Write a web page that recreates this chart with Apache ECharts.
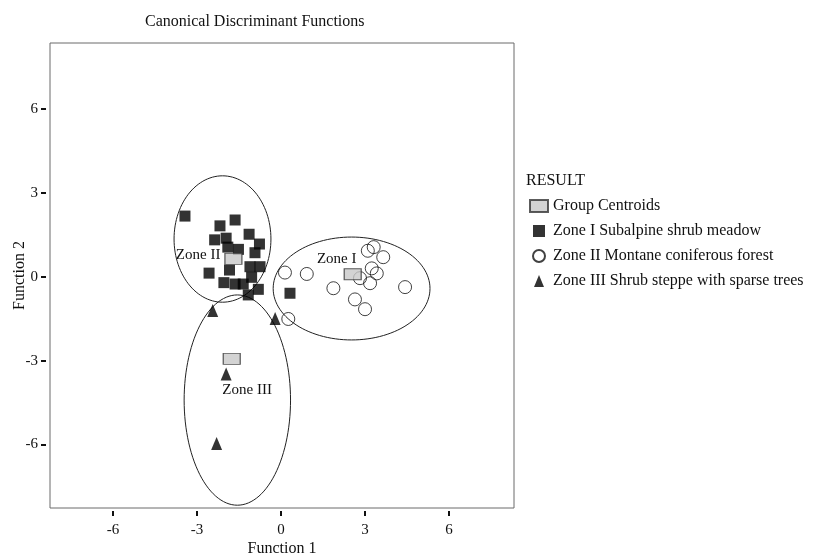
<!DOCTYPE html>
<html>
<head>
<meta charset="utf-8">
<script src="https://cdn.jsdelivr.net/npm/echarts@6/dist/echarts.min.js"></script>
<style>
  html, body { margin: 0; padding: 0; background: #fff; }
  #main { width: 813px; height: 556px; }
</style>
</head>
<body>
<div id="main"></div>
<script>
// tick values on both axes
const xTicks = [-6, -3, 0, 3, 6];
const yTicks = [-6, -3, 0, 3, 6];

// Zone I Subalpine shrub meadow (squares)
const subalpine = [
  [-3.43, 2.17], [-1.64, 2.03], [-2.18, 1.82], [-1.14, 1.52], [-2.37, 1.32],
  [-1.96, 1.38], [-0.77, 1.17], [-1.90, 1.06], [-1.52, 0.98], [-0.93, 0.86],
  [-1.84, 0.24], [-1.11, 0.36], [-0.75, 0.36], [-2.57, 0.13], [-2.04, -0.21],
  [-1.64, -0.26], [-1.35, -0.26], [-1.05, -0.02], [-0.81, -0.45], [-1.17, -0.65],
  [0.32, -0.59]
];
// Zone II Montane coniferous forest (circles)
const montane = [
  [0.14, 0.15], [0.92, 0.10], [1.87, -0.41], [3.10, 0.93], [3.31, 1.06],
  [3.65, 0.70], [3.24, 0.30], [3.42, 0.12], [2.82, -0.05], [3.18, -0.23],
  [4.43, -0.37], [2.64, -0.81], [3.00, -1.16], [0.26, -1.51]
];
// Zone III Shrub steppe with sparse trees (triangles)
const steppe = [
  [-2.44, -1.21], [-0.21, -1.49], [-1.96, -3.48], [-2.30, -5.96]
];
// group centroids
const centroids = [[-1.70, 0.64], [2.56, 0.09], [-1.76, -2.94]];

// hand drawn ellipses: [cx, cy, rx, ry]
const ellipses = [
  [-2.09, 1.35, 1.73, 2.26],
  [2.52, -0.42, 2.80, 1.84],
  [-1.56, -4.41, 1.90, 3.76]
];
// zone labels: [x, y, text]
const zoneLabels = [
  [-2.96, 0.78, 'Zone II'],
  [1.99, 0.63, 'Zone I'],
  [-1.21, -4.05, 'Zone III']
];

const legendNames = [
  'Group Centroids',
  'Zone I Subalpine shrub meadow',
  'Zone II Montane coniferous forest',
  'Zone III Shrub steppe with sparse trees'
];

const FONT = "'Liberation Serif', 'Times New Roman', serif";

var chartDom = document.getElementById('main');
var myChart = echarts.init(chartDom);
var option;

option = {
  animation: false,
  backgroundColor: '#fff',
  textStyle: { fontFamily: FONT, color: '#111' },
  title: {
    text: 'Canonical Discriminant Functions',
    left: 140,
    top: 9,
    textStyle: { fontFamily: FONT, fontSize: 16, fontWeight: 'normal', color: '#111' }
  },
  graphic: [
    {
      type: 'text',
      left: 526,
      top: 173,
      style: { text: 'RESULT', font: '16px ' + FONT, fill: '#111' }
    }
  ],
  legend: {
    orient: 'vertical',
    left: 524,
    top: 193,
    itemWidth: 18,
    itemHeight: 12,
    itemGap: 9,
    selectedMode: false,
    textStyle: { fontFamily: FONT, fontSize: 16, color: '#111', lineHeight: 16 },
    data: [
      { name: legendNames[0], icon: 'rect' },
      { name: legendNames[1], icon: 'path://M0,0H10V10H0Z' },
      { name: legendNames[2], icon: 'circle' },
      { name: legendNames[3], icon: 'path://M5,0L10,12H0Z' }
    ]
  },
  grid: {
    left: 50,
    right: 299,
    top: 43,
    bottom: 48,
    show: true,
    borderColor: '#6b6b6b',
    borderWidth: 1,
    outerBoundsMode: 'none'
  },
  xAxis: {
    type: 'value',
    min: -8.25,
    max: 8.32,
    offset: 3,
    name: 'Function 1',
    nameLocation: 'middle',
    nameGap: 30,
    nameMoveOverlap: false,
    nameTextStyle: { fontFamily: FONT, fontSize: 16, color: '#111' },
    axisLine: { show: false, onZero: false },
    splitLine: { show: false },
    axisTick: { show: true, length: 5, customValues: xTicks, lineStyle: { color: '#111', width: 2 } },
    axisLabel: { customValues: xTicks, margin: 12, fontFamily: FONT, fontSize: 15, color: '#111' }
  },
  yAxis: {
    type: 'value',
    min: -8.27,
    max: 8.36,
    offset: 4,
    name: 'Function 2',
    nameLocation: 'middle',
    nameGap: 18,
    nameMoveOverlap: false,
    nameTextStyle: { fontFamily: FONT, fontSize: 16, color: '#111' },
    axisLine: { show: false, onZero: false },
    splitLine: { show: false },
    axisTick: { show: true, length: 5, customValues: yTicks, lineStyle: { color: '#111', width: 2 } },
    axisLabel: { customValues: yTicks, margin: 8, fontFamily: FONT, fontSize: 15, color: '#111' }
  },
  series: [
    {
      name: 'ellipses',
      type: 'custom',
      data: ellipses,
      silent: true,
      z: 1,
      renderItem: function (params, api) {
        var cx = api.value(0), cy = api.value(1), rx = api.value(2), ry = api.value(3);
        var pts = [];
        for (var i = 0; i < 120; i++) {
          var t = (i / 120) * Math.PI * 2;
          pts.push(api.coord([cx + rx * Math.cos(t), cy + ry * Math.sin(t)]));
        }
        return {
          type: 'polygon',
          shape: { points: pts },
          style: { fill: 'none', stroke: '#222', lineWidth: 1 }
        };
      }
    },
    {
      name: legendNames[1],
      type: 'scatter',
      data: subalpine,
      symbol: 'rect',
      symbolSize: 11,
      z: 3,
      itemStyle: { color: '#000' }
    },
    {
      name: legendNames[2],
      type: 'scatter',
      data: montane,
      symbol: 'circle',
      symbolSize: 13,
      z: 3,
      itemStyle: { color: 'rgba(255,255,255,0)', borderColor: '#111', borderWidth: 1 }
    },
    {
      name: legendNames[3],
      type: 'scatter',
      data: steppe,
      symbol: 'triangle',
      symbolSize: [11, 13],
      z: 3,
      itemStyle: { color: '#000' }
    },
    {
      name: legendNames[0],
      type: 'scatter',
      data: centroids,
      symbol: 'rect',
      symbolSize: [17, 11],
      z: 4,
      itemStyle: { color: '#c8c8c8', borderColor: '#333', borderWidth: 1 }
    },
    {
      name: 'labels',
      type: 'custom',
      data: zoneLabels,
      silent: true,
      z: 5,
      renderItem: function (params, api) {
        var p = api.coord([api.value(0), api.value(1)]);
        return {
          type: 'text',
          x: p[0],
          y: p[1],
          style: {
            text: zoneLabels[params.dataIndex][2],
            font: '15px ' + FONT,
            fill: '#111',
            align: 'center',
            verticalAlign: 'middle'
          }
        };
      }
    }
  ]
};

option && myChart.setOption(option);
</script>
</body>
</html>
